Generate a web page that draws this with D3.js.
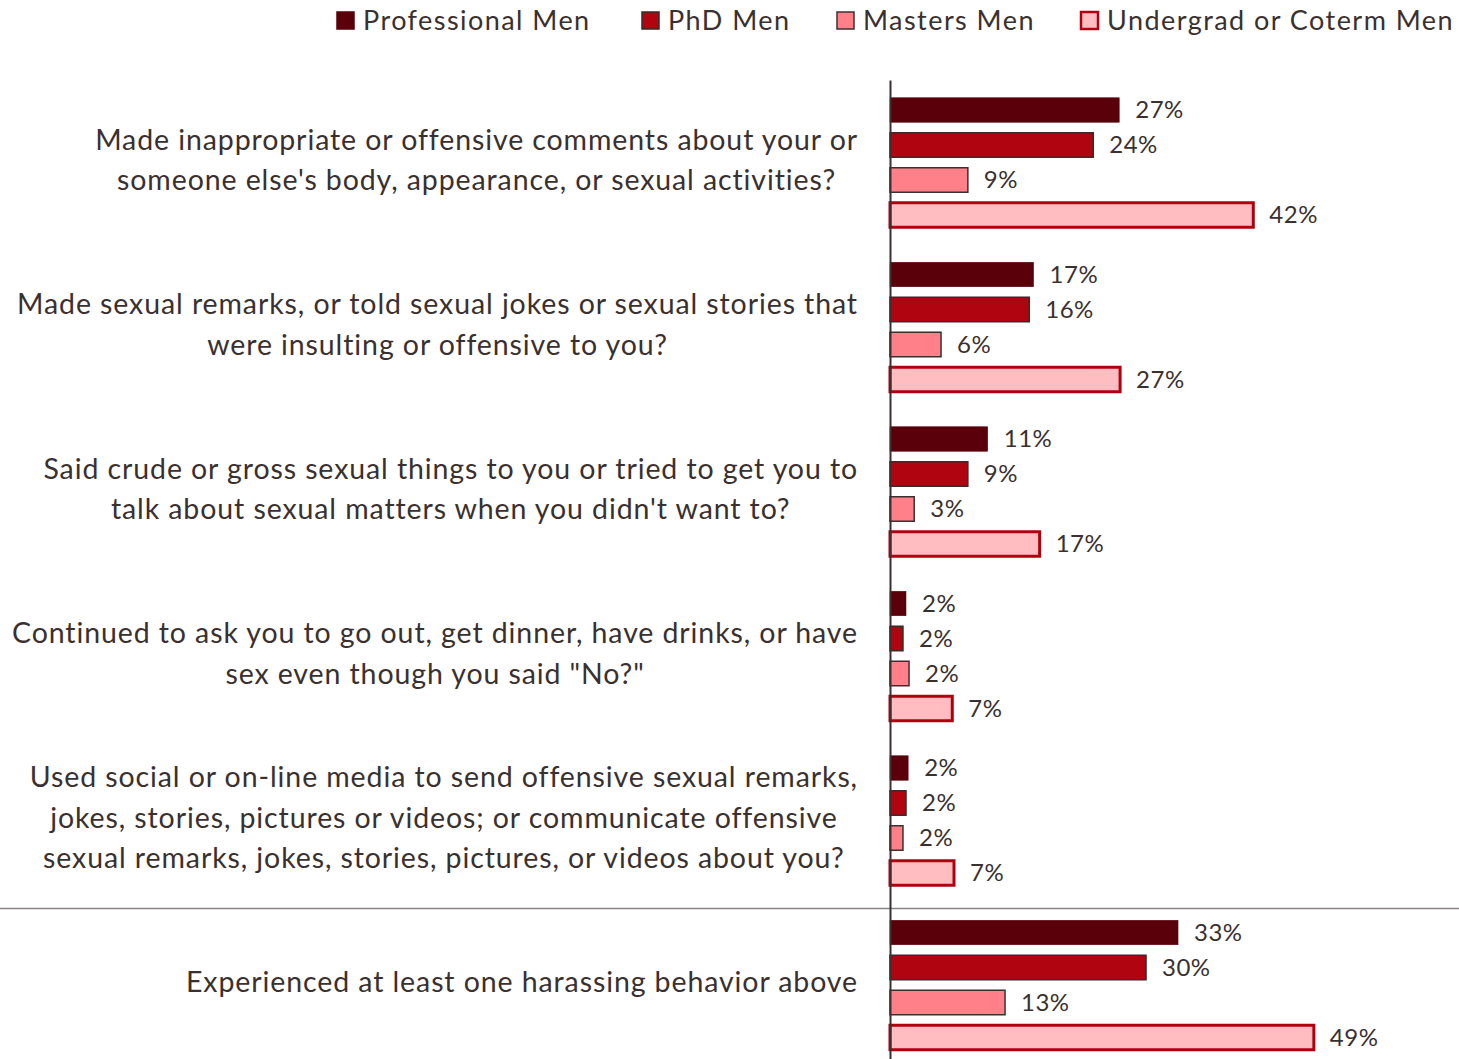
<!DOCTYPE html>
<html><head><meta charset="utf-8">
<script src="https://cdn.jsdelivr.net/npm/d3@7"></script>
<style>html,body{margin:0;padding:0;background:#fff;}svg{display:block;font-family:Lato, "Open Sans", sans-serif;}</style>
</head><body>
<svg id="chart" width="1459" height="1059"></svg>
<script>
const questions = [
  ["Made inappropriate or offensive comments about your or", "someone else's body, appearance, or sexual activities?"],
  ["Made sexual remarks, or told sexual jokes or sexual stories that", "were insulting or offensive to you?"],
  ["Said crude or gross sexual things to you or tried to get you to", "talk about sexual matters when you didn't want to?"],
  ["Continued to ask you to go out, get dinner, have drinks, or have", "sex even though you said \"No?\""],
  ["Used social or on-line media to send offensive sexual remarks,", "jokes, stories, pictures or videos; or communicate offensive", "sexual remarks, jokes, stories, pictures, or videos about you?"],
  ["Experienced at least one harassing behavior above"]
];
const seriesNames = ["Professional Men", "PhD Men", "Masters Men", "Undergrad or Coterm Men"];
const professional = [26.5, 16.6, 11.3, 1.85, 2.1, 33.3];
const phd          = [23.5, 16.1, 9.0, 1.5, 1.85, 29.6];
const masters      = [9.0, 5.9, 2.8, 2.2, 1.5, 13.3];
const undergrad    = [42.0, 26.6, 17.3, 7.2, 7.4, 49.0];
const seriesValues = [professional, phd, masters, undergrad];

const fills   = ["#5a000b", "#b00510", "#ff8088", "#ffbdc1"];
const strokes = ["#5a000b", "#3a2a2a", "#3a3030", "#b00010"];
const strokeW = [0.5, 1.5, 1.5, 3];

const svg = d3.select("#chart");
const W = 1459, H = 1059;
const axisX = 890;
const groupStep = 164.5;
const x = d3.scaleLinear().domain([0, 1]).range([axisX, axisX + 8.65]);
const y0 = d3.scaleBand().domain(d3.range(questions.length)).range([80.25, 80.25 + groupStep * 6]).paddingInner(0).paddingOuter(0);
const y1 = d3.scaleBand().domain(d3.range(4)).range([0, 140]).paddingInner(0.3).paddingOuter(0.15);
const offset = (groupStep - 140) / 2;
const textColor = "#3a3030";

// separator line
svg.append("line").attr("x1", 0).attr("x2", W)
  .attr("y1", 908.5).attr("y2", 908.5).attr("stroke", "#8a8585").attr("stroke-width", 1.5);

// bars
questions.forEach((q, gi) => {
  const g = svg.append("g").attr("transform", `translate(0,${y0(gi) + offset})`);
  seriesValues.forEach((vals, si) => {
    const v = vals[gi];
    g.append("rect")
      .attr("x", x(0))
      .attr("y", y1(si))
      .attr("width", x(v) - x(0))
      .attr("height", y1.bandwidth())
      .attr("fill", fills[si])
      .attr("stroke", strokes[si])
      .attr("stroke-width", strokeW[si]);
    g.append("text")
      .attr("x", x(v) + 16)
      .attr("y", y1(si) + y1.bandwidth() / 2)
      .attr("dy", "0.35em")
      .attr("font-size", 24)
      .attr("letter-spacing", 0.5)
      .attr("fill", textColor)
      .text(Math.round(v) + "%");
  });
  // category label
  const lh = 40.5;
  const cy = y0(gi) + groupStep / 2 - 2.5;
  const tg = svg.append("g");
  const texts = q.map((line, li) => tg.append("text")
    .attr("y", cy + (li - (q.length - 1) / 2) * lh)
    .attr("dy", "0.35em")
    .attr("font-size", 28.5)
    .attr("letter-spacing", 0.9)
    .attr("fill", textColor)
    .attr("text-anchor", "middle")
    .text(line));
  const maxW = d3.max(texts, t => t.node().getComputedTextLength());
  texts.forEach(t => t.attr("x", 858 - maxW / 2));
});

// axis line
const yAxis = d3.axisLeft(d3.scaleLinear().range([80, H])).ticks(0).tickSize(0);
svg.append("g").attr("transform", `translate(${axisX},0)`).call(yAxis)
  .call(g => g.select(".domain").attr("stroke", "#3a3030").attr("stroke-width", 2));

// legend
const legendX = [337, 642, 837, 1081];
const lg = svg.append("g");
seriesNames.forEach((name, i) => {
  lg.append("rect").attr("x", legendX[i]).attr("y", 12).attr("width", 17).attr("height", 17)
    .attr("fill", fills[i]).attr("stroke", i === 0 ? fills[0] : strokes[i]).attr("stroke-width", i === 3 ? 2.5 : 1.5);
  lg.append("text").attr("x", legendX[i] + 26).attr("y", 21).attr("dy", "0.35em")
    .attr("font-size", 27).attr("letter-spacing", 1.45).attr("fill", textColor).text(name);
});
</script>
</body></html>
